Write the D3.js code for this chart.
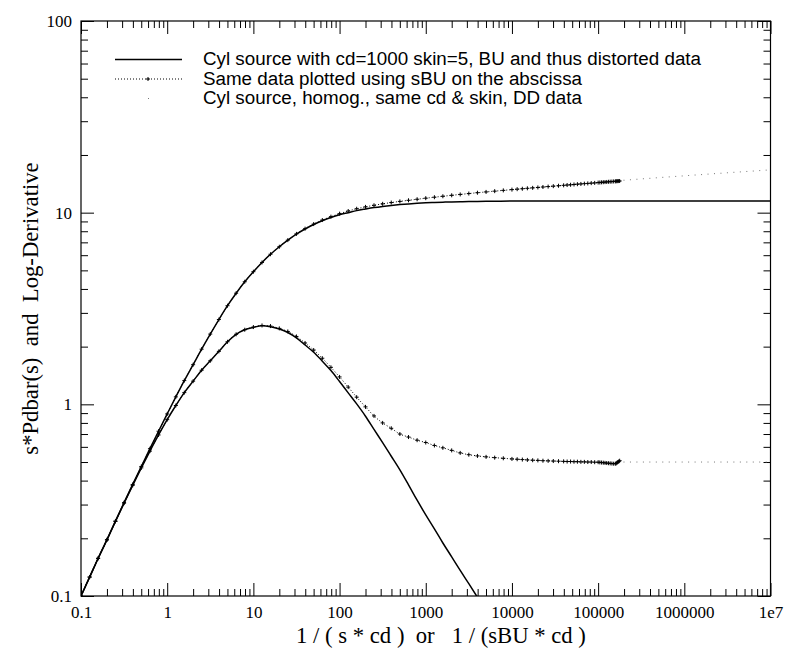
<!DOCTYPE html>
<html><head><meta charset="utf-8">
<script src="https://cdn.jsdelivr.net/npm/d3@7"></script>
<style>body{margin:0;background:#fff}svg{display:block}</style>
</head><body>
<svg id="c" width="789" height="652"></svg>
<script>
// ---- data ----
const xTickLabels = ["0.1","1","10","100","1000","10000","100000","1000000","1e7"];
const yTickLabels = ["0.1","1","10","100"];
const legendLabels = [
  "Cyl source with cd=1000 skin=5, BU and thus distorted data",
  "Same data plotted using sBU on the abscissa",
  "Cyl source, homog., same cd & skin, DD data"
];
// solid curves (BU, distorted)
const xSolid = [0.1,0.126,0.158,0.2,0.251,0.316,0.398,0.501,0.631,0.794,1,1.26,1.58,2.0,2.51,3.16,3.98,5.01,6.31,7.94,10,12.6,15.8,20,25.1,31.6,39.8,50.1,63.1,79.4,100,126,158,200,251,316,398,501,631,794,1000,1260,1580,2000,2510,3160,3890,5010,10000,31600,100000,1000000,10000000];
const pSolid = [0.1,0.1256,0.1574,0.1968,0.246,0.307,0.382,0.474,0.587,0.724,0.891,1.094,1.330,1.610,1.940,2.325,2.77,3.27,3.80,4.36,4.92,5.50,6.07,6.64,7.19,7.73,8.22,8.67,9.08,9.44,9.75,10.0,10.25,10.45,10.63,10.78,10.91,11.02,11.11,11.19,11.25,11.30,11.34,11.38,11.41,11.43,11.45,11.47,11.49,11.5,11.5,11.5,11.5];
const dSolid = [0.1,0.1255,0.157,0.196,0.245,0.305,0.378,0.466,0.570,0.692,0.832,0.986,1.151,1.321,1.507,1.687,1.89,2.12,2.32,2.45,2.52,2.57,2.54,2.47,2.37,2.22,2.04,1.87,1.68,1.50,1.315,1.148,1.005,0.867,0.740,0.631,0.536,0.455,0.380,0.316,0.265,0.224,0.189,0.160,0.136,0.116,0.1,0.083,null,null,null,null,null];
// dotted + markers (same data plotted against sBU)
const xBU = [0.1,0.126,0.158,0.2,0.251,0.316,0.398,0.501,0.631,0.794,1,1.26,1.58,2.0,2.51,3.16,3.98,5.01,6.31,7.94,10,12.6,15.8,20,25.1,31.6,39.8,50.1,63.1,79.4,100,126,158,200,251,316,398,501,631,794,1000,1260,1580,2000,2510,3160,3980,5010,6310,7940,10000,11500,13200,15100,17400,20000,22900,26300,30200,34700,39800,43700,47900,52500,57500,63100,69200,75900,83200,91200,100000,104700,109600,114800,120200,125900,131800,138000,144500,151400,158500,162200,166000,169800,173800,177800];
const pBU = [0.1,0.1256,0.1574,0.1968,0.246,0.307,0.382,0.474,0.587,0.724,0.891,1.094,1.330,1.610,1.940,2.325,2.77,3.27,3.80,4.36,4.92,5.50,6.07,6.64,7.19,7.75,8.25,8.72,9.15,9.53,9.88,10.2,10.48,10.72,10.93,11.12,11.29,11.45,11.60,11.75,11.90,12.04,12.18,12.32,12.45,12.58,12.71,12.83,12.95,13.07,13.19,13.26,13.33,13.40,13.47,13.54,13.61,13.68,13.75,13.82,13.89,13.94,13.98,14.03,14.08,14.12,14.17,14.21,14.26,14.30,14.35,14.37,14.40,14.42,14.44,14.46,14.49,14.51,14.53,14.55,14.57,14.59,14.60,14.61,14.62,14.63];
const dBU = [0.1,0.1255,0.157,0.196,0.245,0.305,0.378,0.466,0.570,0.692,0.832,0.986,1.151,1.321,1.507,1.687,1.89,2.12,2.32,2.45,2.53,2.58,2.56,2.49,2.40,2.26,2.09,1.92,1.74,1.56,1.39,1.23,1.09,0.97,0.87,0.80,0.75,0.70,0.675,0.65,0.632,0.61,0.593,0.575,0.558,0.546,0.538,0.532,0.527,0.523,0.519,0.517,0.515,0.513,0.511,0.510,0.508,0.507,0.506,0.505,0.504,0.503,0.503,0.502,0.502,0.501,0.501,0.500,0.500,0.499,0.499,0.498,0.497,0.496,0.495,0.494,0.493,0.492,0.491,0.490,0.490,0.492,0.496,0.500,0.504,0.508];
// DD data (small dots), visible tail
const xDD = [199500,237100,281800,335000,398100,473200,562300,668300,794300,944100,1122000,1334000,1585000,1884000,2239000,2661000,3162000,3758000,4467000,5309000,6310000,7499000,8913000];
const pDD = [14.77,14.85,14.94,15.03,15.11,15.20,15.29,15.37,15.46,15.54,15.63,15.72,15.80,15.89,15.98,16.06,16.15,16.24,16.32,16.41,16.49,16.58,16.67];
const dDD = [0.5,0.5,0.5,0.5,0.5,0.5,0.5,0.5,0.5,0.5,0.5,0.5,0.5,0.5,0.5,0.5,0.5,0.5,0.5,0.5,0.5,0.5,0.5];

// ---- layout ----
const L = 81, R = 770.5, T = 21, B = 596;
const svg = d3.select("#c");
const x = d3.scaleLog().domain([0.1, 1e7]).range([L, R]);
const y = d3.scaleLog().domain([0.1, 100]).range([B, T]);

const majorX = xTickLabels.map(s => +s);
const majorY = yTickLabels.map(s => +s);
const minors = (dom) => { const out=[]; for (let e=Math.log10(dom[0]); e<Math.log10(dom[1]); e++) for (let k=2;k<10;k++) out.push(k*Math.pow(10,e)); return out; };
const minorX = minors(x.domain()), minorY = minors(y.domain());

svg.append("defs").append("clipPath").attr("id","clip")
  .append("rect").attr("x",L).attr("y",T).attr("width",R-L).attr("height",B-T);

const serif = "'Liberation Serif','Times New Roman',serif";
const sans = "'Liberation Sans',Arial,sans-serif";

function styleAxis(g){ g.select(".domain").remove(); g.selectAll("line").attr("stroke","#000").attr("stroke-width",1); }

// bottom
svg.append("g").attr("transform",`translate(0,${B})`)
  .call(d3.axisBottom(x).tickValues(majorX).tickSize(-13).tickPadding(22).tickFormat((d,i)=>xTickLabels[i]))
  .call(styleAxis).call(g=>g.selectAll("text").attr("font-family",serif).attr("font-size",17).attr("fill","#000").attr("dy","0"));
svg.append("g").attr("transform",`translate(0,${B})`)
  .call(d3.axisBottom(x).tickValues(minorX).tickSize(-7).tickFormat(""))
  .call(styleAxis);
// top
svg.append("g").attr("transform",`translate(0,${T})`)
  .call(d3.axisTop(x).tickValues(majorX).tickSize(-13).tickFormat(""))
  .call(styleAxis);
svg.append("g").attr("transform",`translate(0,${T})`)
  .call(d3.axisTop(x).tickValues(minorX).tickSize(-7).tickFormat(""))
  .call(styleAxis);
// left
svg.append("g").attr("transform",`translate(${L},0)`)
  .call(d3.axisLeft(y).tickValues(majorY).tickSize(-13).tickPadding(9).tickFormat((d,i)=>yTickLabels[i]))
  .call(styleAxis).call(g=>g.selectAll("text").attr("font-family",serif).attr("font-size",17).attr("fill","#000"));
svg.append("g").attr("transform",`translate(${L},0)`)
  .call(d3.axisLeft(y).tickValues(minorY).tickSize(-7).tickFormat(""))
  .call(styleAxis);
// right
svg.append("g").attr("transform",`translate(${R},0)`)
  .call(d3.axisRight(y).tickValues(majorY).tickSize(-13).tickFormat(""))
  .call(styleAxis);
svg.append("g").attr("transform",`translate(${R},0)`)
  .call(d3.axisRight(y).tickValues(minorY).tickSize(-7).tickFormat(""))
  .call(styleAxis);
// frame
svg.append("rect").attr("x",L).attr("y",T).attr("width",R-L).attr("height",B-T)
  .attr("fill","none").attr("stroke","#000").attr("stroke-width",1.2);

// axis titles
svg.append("text").attr("x",441).attr("y",643).attr("text-anchor","middle")
  .attr("font-family",serif).attr("font-size",22.7).attr("xml:space","preserve")
  .text("1 / ( s * cd )  or   1 / (sBU * cd )");
svg.append("text").attr("transform",`translate(38,${(T+B)/2}) rotate(-90)`).attr("text-anchor","middle")
  .attr("font-family",serif).attr("font-size",22.7).attr("xml:space","preserve")
  .text("s*Pdbar(s)  and  Log-Derivative");

// curves
const plot = svg.append("g").attr("clip-path","url(#clip)");
const line = d3.line().defined(d=>d[1]!=null).x(d=>x(d[0])).y(d=>y(d[1])).curve(d3.curveMonotoneX);
const zip = (xs,ys)=>xs.map((v,i)=>[v,ys[i]]);

plot.append("path").attr("d",line(zip(xSolid,pSolid))).attr("fill","none").attr("stroke","#000").attr("stroke-width",1.5);
plot.append("path").attr("d",line(zip(xSolid,dSolid))).attr("fill","none").attr("stroke","#000").attr("stroke-width",1.5);

[pBU,dBU].forEach(ys=>{
  plot.append("path").attr("d",line(zip(xBU,ys))).attr("fill","none").attr("stroke","#000")
    .attr("stroke-width",1).attr("stroke-dasharray","1,2");
  plot.append("g").selectAll("path").data(zip(xBU,ys)).join("path")
    .attr("transform",d=>`translate(${x(d[0])},${y(d[1])})`)
    .attr("d","M-2,0H2M0,-2V2").attr("stroke","#000").attr("stroke-width",1);
});

[pDD,dDD].forEach(ys=>{
  plot.append("g").selectAll("rect").data(zip(xDD,ys)).join("rect")
    .attr("x",d=>x(d[0])-0.5).attr("y",d=>y(d[1])-0.5).attr("width",1).attr("height",1).attr("fill","#777");
});

// legend
const lg = svg.append("g");
const rowY = [59.5, 79, 98.5];
lg.append("line").attr("x1",115).attr("x2",182).attr("y1",rowY[0]).attr("y2",rowY[0]).attr("stroke","#000").attr("stroke-width",1.5);
lg.append("line").attr("x1",115).attr("x2",182).attr("y1",rowY[1]).attr("y2",rowY[1]).attr("stroke","#000").attr("stroke-width",1).attr("stroke-dasharray","1,2");
lg.append("path").attr("transform",`translate(148,${rowY[1]})`).attr("d","M-2,0H2M0,-2V2").attr("stroke","#000");
lg.append("rect").attr("x",148).attr("y",rowY[2]-0.5).attr("width",1).attr("height",1).attr("fill","#777");
legendLabels.forEach((t,i)=>{
  lg.append("text").attr("x",203).attr("y",rowY[i]+5.5).attr("font-family",sans).attr("font-size",18.8).attr("fill","#000").text(t);
});
</script>
</body></html>
